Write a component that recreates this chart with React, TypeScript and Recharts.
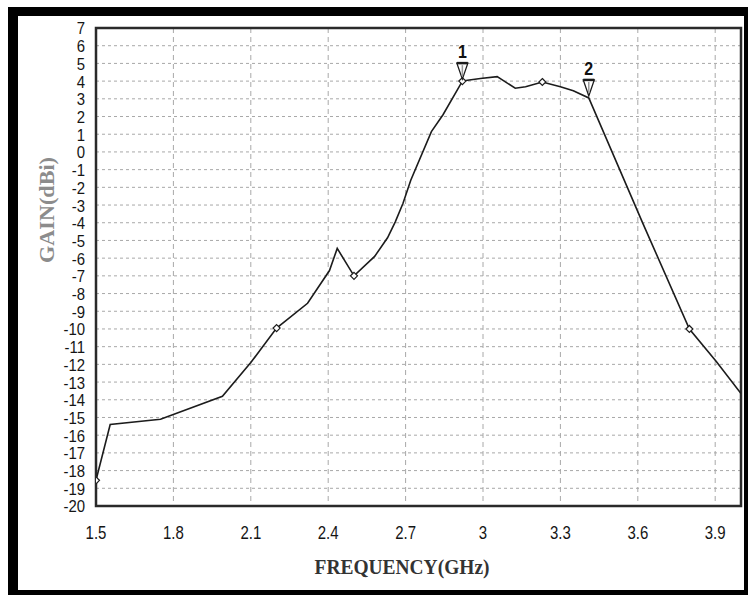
import React from 'react';
import { LineChart, Line, XAxis, YAxis, CartesianGrid, ReferenceArea, ReferenceDot } from 'recharts';

// ─── Data ─────────────────────────────────────────────────────────────────────

const FREQ = [1.5, 1.555, 1.75, 1.99, 2.1, 2.2, 2.32, 2.405, 2.435, 2.5, 2.58, 2.63, 2.66, 2.69, 2.72, 2.8, 2.845, 2.92, 2.94, 2.99, 3.055, 3.125, 3.165, 3.23, 3.3, 3.35, 3.41, 3.62, 3.8, 3.905, 4.0];
const GAIN = [-18.55, -15.4, -15.1, -13.8, -11.9, -9.95, -8.55, -6.7, -5.45, -7.0, -5.9, -4.85, -3.95, -2.9, -1.6, 1.15, 2.1, 4.0, 4.05, 4.15, 4.25, 3.6, 3.68, 3.95, 3.68, 3.45, 3.05, -4.05, -10.0, -11.85, -13.65];
const DOT_FREQ = [1.5, 2.2, 2.5, 2.92, 3.23, 3.8];

const MARKER_NAMES = ['1', '2'];
const MARKER_FREQ = [2.92, 3.41];
const MARKER_GAIN = [4.0, 3.05];

const X_TICKS = [1.5, 1.8, 2.1, 2.4, 2.7, 3, 3.3, 3.6, 3.9];
const Y_TICKS = [-20, -19, -18, -17, -16, -15, -14, -13, -12, -11, -10, -9, -8, -7, -6, -5, -4, -3, -2, -1, 0, 1, 2, 3, 4, 5, 6, 7];

const data = FREQ.map((f, i) => ({ f, gain: GAIN[i] }));

// ─── Style ────────────────────────────────────────────────────────────────────

const W = 748;
const H = 595;
const INK = '#1c1c1c';
const GRID = '#a8a8a8';
const SANS = '"Liberation Sans Narrow", "Liberation Sans", Arial, sans-serif';
const SERIF = '"Liberation Serif", "Times New Roman", serif';

// tall, narrow-looking tick text like the original plot
function XTick({ x, y, payload }: any) {
  return (
    <text transform={`translate(${x},${y}) scale(1,1.2)`} y={10.7} textAnchor="middle" fontSize={15} fontFamily={SANS} fill="#151515">
      {String(payload.value)}
    </text>
  );
}

function YTick({ x, y, payload }: any) {
  return (
    <text transform={`translate(${x},${y}) scale(1.03,1.08)`} y={6} textAnchor="end" fontSize={14.5} fontFamily={SANS} fill="#151515">
      {String(payload.value)}
    </text>
  );
}

function DiamondDot(p: any) {
  const { cx, cy, payload, index } = p;
  if (!DOT_FREQ.includes(payload.f)) return <g key={index} />;
  const r = 3.5;
  return (
    <path
      key={index}
      d={`M${cx},${cy - r} L${cx + r},${cy} L${cx},${cy + r} L${cx - r},${cy} Z`}
      fill="#fff"
      stroke={INK}
      strokeWidth={1.2}
    />
  );
}

function markerShape(name: string) {
  return (p: any) => {
    const { cx, cy } = p;
    const tip = cy - 2;
    const top = cy - 18;
    const hw = 5.5;
    return (
      <g>
        <path d={`M${cx - hw},${top} L${cx + hw},${top} L${cx},${tip} Z`} fill="#fff" stroke={INK} strokeWidth={1.3} />
        <line x1={cx - hw} y1={top} x2={cx + hw} y2={top} stroke={INK} strokeWidth={2.5} />
        <line x1={cx} y1={top + 2} x2={cx} y2={tip - 3} stroke="#9a9a9a" strokeWidth={1.5} />
        <text
          transform={`translate(${cx},${top - 5}) scale(1,1.2)`}
          textAnchor="middle"
          fontSize={16}
          fontWeight="bold"
          fontFamily={SANS}
          fill="#111"
        >
          {name}
        </text>
      </g>
    );
  };
}

// ─── Main ─────────────────────────────────────────────────────────────────────

export default function App() {
  return (
    <div style={{ position: 'absolute', left: 0, top: 0, width: W, height: H, background: '#fff' }}>
      {/* outer black frame */}
      <div
        style={{
          position: 'absolute',
          left: 8,
          top: 7,
          width: W - 8,
          height: H - 7,
          boxSizing: 'border-box',
          borderStyle: 'solid',
          borderColor: '#000',
          borderWidth: '9px 4px 5px 10px',
        }}
      />

      <div style={{ position: 'absolute', left: 0, top: 0 }}>
        <LineChart width={W} height={H} data={data} margin={{ top: 28, right: 7, bottom: 59, left: 36 }}>
          <CartesianGrid horizontal vertical={false} stroke={GRID} strokeDasharray="3 3" />
          <CartesianGrid horizontal={false} vertical stroke={GRID} strokeDasharray="5 4" />
          <XAxis
            dataKey="f"
            type="number"
            domain={[1.5, 4.0]}
            ticks={X_TICKS}
            interval={0}
            allowDataOverflow
            axisLine={false}
            tickLine={false}
            tickSize={0}
            tickMargin={20}
            height={30}
            tick={<XTick />}
          />
          <YAxis
            type="number"
            domain={[-20, 7]}
            ticks={Y_TICKS}
            interval={0}
            allowDataOverflow
            axisLine={false}
            tickLine={false}
            tickSize={0}
            tickMargin={11}
            width={60}
            tick={<YTick />}
          />
          <ReferenceArea x1={1.5} x2={4.0} y1={-20} y2={7} fill="none" stroke="#2a2a2a" strokeWidth={2.5} ifOverflow="visible" />
          <Line
            dataKey="gain"
            type="linear"
            stroke={INK}
            strokeWidth={1.6}
            dot={DiamondDot}
            activeDot={false}
            isAnimationActive={false}
          />
          {MARKER_NAMES.map((n, i) => (
            <ReferenceDot
              key={n}
              x={MARKER_FREQ[i]}
              y={MARKER_GAIN[i]}
              ifOverflow="visible"
              shape={markerShape(n)}
            />
          ))}
        </LineChart>
      </div>

      {/* axis titles */}
      <svg width={W} height={H} style={{ position: 'absolute', left: 0, top: 0, pointerEvents: 'none' }}>
        <text
          x={402}
          y={574}
          textAnchor="middle"
          fontFamily={SERIF}
          fontWeight="bold"
          fontSize={20}
          textLength={175}
          lengthAdjust="spacingAndGlyphs"
          fill="#333"
        >
          FREQUENCY(GHz)
        </text>
        <text
          transform="translate(54,210) rotate(-90)"
          textAnchor="middle"
          fontFamily={SERIF}
          fontWeight="bold"
          fontSize={21}
          textLength={106}
          lengthAdjust="spacingAndGlyphs"
          fill="#8c8c8c"
        >
          GAIN(dBi)
        </text>
      </svg>
    </div>
  );
}
